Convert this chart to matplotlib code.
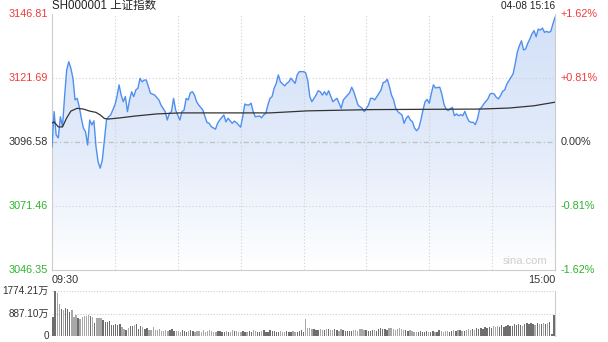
import matplotlib
matplotlib.use("Agg")
import matplotlib.pyplot as plt
import numpy as np
from matplotlib.colors import LinearSegmentedColormap
from matplotlib.patches import Polygon

plt.rcParams["font.family"] = ["Liberation Sans", "Noto Sans CJK SC", "DejaVu Sans"]

# ---------------------------------------------------------------------------
# Data
# ---------------------------------------------------------------------------
TITLE = "SH000001 上证指数"
STAMP = "04-08 15:16"
PREV_CLOSE = 3096.58
Y_TICKS = [3046.35, 3071.46, 3096.58, 3121.69, 3146.81]
PCT_LABELS = ["-1.62%", "-0.81%", "0.00%", "+0.81%", "+1.62%"]
VOL_TICKS = [0, 887.10, 1774.21]
VOL_LABELS = ["0", "887.10万", "1774.21万"]

# minutes since 09:30 (trading minutes, 240 = 15:00) and index price
price_min = [
    0, 1, 2, 3, 4, 5, 6, 7, 8, 9, 10, 11, 12, 13, 14, 15, 16, 17, 18, 19,
    20, 21, 22, 23, 24, 25, 26, 27, 28, 30, 31, 32, 33, 34, 35, 36, 37, 38, 39, 40,
    41, 42, 43, 44, 45, 46, 47, 49, 51, 52, 54, 55, 56, 57, 58, 59, 61, 62, 63, 64,
    65, 66, 67, 68, 69, 70, 72, 73, 74, 75, 76, 78, 79, 80, 82, 83, 84, 85, 86, 87,
    88, 90, 91, 92, 93, 94, 95, 96, 97, 99, 100, 101, 102, 103, 104, 105, 106, 107, 108, 109,
    111, 112, 113, 114, 116, 117, 118, 120, 121, 122, 123, 124, 126, 127, 128, 129, 130, 131, 132, 134,
    135, 136, 137, 138, 139, 141, 142, 143, 144, 145, 146, 147, 148, 149, 151, 152, 153, 154, 155, 157,
    158, 159, 160, 161, 162, 163, 164, 165, 167, 168, 169, 170, 171, 172, 173, 174, 175, 176, 177, 178,
    179, 180, 181, 182, 183, 185, 186, 187, 188, 189, 191, 192, 193, 194, 195, 196, 197, 198, 199, 200,
    201, 202, 203, 204, 205, 206, 208, 209, 210, 211, 212, 213, 214, 215, 216, 217, 219, 220, 221, 222,
    223, 224, 225, 226, 227, 228, 229, 230, 231, 232, 233, 234, 235, 236, 237, 238, 239, 240,
]
price = [
    3094.7, 3108.5, 3099.3, 3098.2, 3106.5, 3102.6, 3114.4, 3124.8, 3128.1, 3125.5,
    3121.6, 3113.1, 3113.7, 3110.4, 3105.9, 3102.0, 3100.6, 3095.4, 3105.2, 3103.3,
    3104.9, 3094.7, 3088.8, 3086.3, 3089.5, 3097.4, 3105.2, 3106.5, 3107.2, 3111.1,
    3114.4, 3119.0, 3115.0, 3112.4, 3114.4, 3108.5, 3113.1, 3116.3, 3114.4, 3117.0,
    3117.7, 3121.6, 3120.2, 3120.9, 3120.9, 3118.3, 3115.7, 3115.0, 3113.1, 3111.1,
    3108.5, 3105.2, 3107.8, 3108.5, 3113.7, 3109.1, 3105.2, 3108.5, 3109.1, 3113.7,
    3113.1, 3115.9, 3116.3, 3115.0, 3112.4, 3111.1, 3109.1, 3106.5, 3104.2, 3103.9,
    3102.6, 3101.6, 3103.9, 3105.2, 3107.2, 3104.5, 3105.9, 3104.9, 3103.9, 3104.8,
    3104.2, 3102.4, 3106.5, 3111.5, 3111.1, 3111.1, 3111.8, 3108.5, 3106.5, 3106.8,
    3106.1, 3107.2, 3107.8, 3111.1, 3113.7, 3114.4, 3117.7, 3119.6, 3122.9, 3120.2,
    3118.6, 3119.6, 3120.2, 3121.6, 3119.6, 3122.9, 3124.2, 3124.2, 3123.8, 3120.9,
    3114.4, 3112.4, 3115.0, 3116.7, 3116.3, 3115.0, 3116.3, 3115.0, 3116.7, 3112.4,
    3113.1, 3113.7, 3111.8, 3109.8, 3113.1, 3115.0, 3115.9, 3118.1, 3116.3, 3113.7,
    3111.1, 3110.4, 3109.8, 3108.5, 3111.1, 3113.7, 3113.7, 3113.1, 3114.4, 3117.0,
    3119.9, 3120.2, 3121.2, 3118.3, 3115.0, 3113.1, 3109.8, 3108.5, 3107.2, 3103.9,
    3105.9, 3106.8, 3105.2, 3104.5, 3102.0, 3101.0, 3102.0, 3105.2, 3109.1, 3112.4,
    3113.3, 3111.8, 3115.7, 3119.0, 3117.8, 3118.1, 3115.4, 3111.5, 3109.5, 3108.9,
    3110.2, 3106.9, 3107.6, 3106.9, 3107.3, 3106.9, 3108.6, 3106.3, 3104.7, 3104.3,
    3104.3, 3103.4, 3105.6, 3109.5, 3110.2, 3111.5, 3113.5, 3115.4, 3115.7, 3115.4,
    3114.1, 3113.5, 3114.8, 3116.5, 3117.0, 3119.3, 3122.0, 3123.3, 3127.2, 3131.8,
    3134.4, 3136.3, 3132.7, 3133.1, 3135.3, 3137.0, 3139.0, 3140.3, 3137.9, 3140.9,
    3140.5, 3141.3, 3139.6, 3140.0, 3139.6, 3140.0, 3142.9, 3145.5,
]

# average price line
avg_min = [0, 1, 3, 5, 7, 9, 12, 15, 18, 21, 23, 25, 27, 32, 40, 50, 61, 104, 122, 153, 204, 218, 230, 240]
avg_price = [3104.0, 3104.5, 3102.5, 3102.5, 3106.0, 3108.7, 3109.8, 3109.5, 3108.7, 3108.2,
             3107.2, 3105.8, 3105.6, 3106.0, 3106.8, 3107.6, 3108.0, 3108.0, 3108.8, 3109.3,
             3109.5, 3109.9, 3110.8, 3112.2]

# per-minute volume (万手), 241 bars
volume = [
    750, 1774, 1690, 1280, 1080, 1040, 1100, 1080, 950, 1010,
    750, 820, 710, 660, 750, 790, 790, 840, 790, 750,
    510, 720, 690, 710, 620, 550, 550, 580, 420, 420,
    490, 420, 490, 355, 275, 220, 300, 380, 380, 420,
    490, 290, 380, 350, 290, 310, 250, 220, 350, 240,
    230, 260, 200, 210, 250, 190, 220, 260, 180, 200,
    210, 170, 230, 190, 160, 200, 240, 180, 150, 210,
    190, 170, 220, 160, 190, 230, 200, 170, 150, 180,
    210, 160, 140, 190, 170, 150, 220, 180, 200, 160,
    150, 180, 140, 170, 200, 160, 220, 180, 150, 170,
    190, 230, 170, 160, 250, 200, 180, 160, 150, 190,
    170, 150, 190, 140, 160, 180, 150, 170, 200, 220,
    150, 660, 320, 300, 260, 280, 240, 220, 270, 250,
    230, 260, 290, 250, 220, 280, 230, 200, 260, 240,
    210, 190, 180, 210, 240, 230, 200, 260, 280, 220,
    240, 200, 180, 230, 250, 210, 270, 300, 260, 280,
    230, 300, 320, 270, 250, 290, 310, 260, 230, 250,
    200, 220, 190, 170, 160, 150, 180, 140, 160, 190,
    170, 150, 200, 170, 160, 220, 180, 150, 190, 210,
    170, 200, 230, 180, 220, 250, 210, 190, 240, 260,
    230, 280, 250, 300, 270, 320, 290, 340, 310, 360,
    330, 380, 350, 400, 370, 420, 360, 390, 440, 410,
    380, 460, 420, 480, 450, 410, 470, 500, 460, 520,
    480, 450, 510, 490, 470, 530, 460, 500, 540, 60,
    840,
]

RED = "#f23a3a"
GREEN = "#2db32d"
GRAY_TXT = "#333333"
LINE = "#4f8ff0"

# ---------------------------------------------------------------------------
# Figure
# ---------------------------------------------------------------------------
W, H = 608, 342
fig = plt.figure(figsize=(W / 100, H / 100), dpi=100)
fig.patch.set_facecolor("white")

x0, x1 = 52 / W, 555 / W
ax = fig.add_axes([x0, 1 - 270 / H, x1 - x0, (270 - 14) / H])
axv = fig.add_axes([x0, 1 - 336 / H, x1 - x0, (336 - 291) / H])

ylo, yhi = Y_TICKS[0], Y_TICKS[-1]
ax.set_xlim(0, 240)
ax.set_ylim(ylo, yhi)

# gradient fill under the price line
cmap = LinearSegmentedColormap.from_list("fill", ["#ffffff", "#e2ebfa", "#d2e0f8"])
grad = np.linspace(1, 0, 256).reshape(-1, 1)
im = ax.imshow(grad, cmap=cmap, aspect="auto", extent=[0, 240, ylo, yhi],
               origin="upper", zorder=1, interpolation="bilinear")
verts = [(price_min[0], ylo)] + list(zip(price_min, price)) + [(price_min[-1], ylo)]
clip = Polygon(verts, closed=True, facecolor="none", edgecolor="none")
ax.add_patch(clip)
im.set_clip_path(clip)

# grid
for t in range(30, 240, 30):
    ax.axvline(t, color="#d0d0d0", lw=0.8, ls=(0, (1, 2)), zorder=2)
for v in (Y_TICKS[1], Y_TICKS[3]):
    ax.axhline(v, color="#d0d0d0", lw=0.8, ls=(0, (1, 2)), zorder=2)
ax.axhline(PREV_CLOSE, color="#c0c0c0", lw=0.9, ls=(0, (4, 2, 1, 2)), zorder=2)

ax.plot(price_min, price, color=LINE, lw=1.0, zorder=4)
ax.plot(avg_min, avg_price, color="#333333", lw=0.9, zorder=5)

for s in ("left", "bottom", "right"):
    ax.spines[s].set_color("#cccccc")
    ax.spines[s].set_linewidth(0.8)
ax.spines["top"].set_visible(False)
ax.set_xticks([])
ax.set_yticks([])

# price labels left / percent labels right
label_colors = [GREEN, GREEN, GRAY_TXT, RED, RED]
for v, pct, c in zip(Y_TICKS, PCT_LABELS, label_colors):
    ax.text(-2.0, v, f"{v:.2f}", color=c, fontsize=7.8, ha="right", va="center")
    ax.text(242.5, v, pct, color=c, fontsize=7.8, ha="left", va="center")

ax.text(0, -0.018, "09:30", transform=ax.transAxes, ha="left", va="top",
        fontsize=7.8, color=GRAY_TXT)
ax.text(1, -0.018, "15:00", transform=ax.transAxes, ha="right", va="top",
        fontsize=7.8, color=GRAY_TXT)
ax.text(0.985, 0.015, "sina.com", transform=ax.transAxes, ha="right", va="bottom",
        fontsize=8, color="#cfcfcf")

fig.text(x0 + 0.5 / W, 1 - 6 / H, TITLE, ha="left", va="center", fontsize=8.3,
         color="#222222")
fig.text(x1, 1 - 6 / H, STAMP, ha="right", va="center", fontsize=7.3,
         color="#222222")

# volume panel
vm = np.arange(len(volume))
ref = np.interp(vm, price_min, price)
up = np.r_[True, np.diff(ref) >= 0]
bar_colors = ["#6e6e6e" if u else "#a8a8a8" for u in up]
axv.bar(vm, volume, width=0.65, color=bar_colors, edgecolor="none", zorder=3)
axv.set_xlim(-0.5, 240.5)
axv.set_ylim(0, VOL_TICKS[-1])
for v in VOL_TICKS[1:]:
    axv.axhline(v, color="#cfcfcf", lw=0.8, ls=(0, (1, 1.5)), zorder=1)
axv.set_xticks([])
axv.set_yticks([])
for s in ("left", "top", "bottom"):
    axv.spines[s].set_visible(False)
axv.spines["right"].set_color("#cccccc")
axv.spines["right"].set_linewidth(0.8)
for v, lab in zip(VOL_TICKS, VOL_LABELS):
    axv.text(-2.0, v, lab, ha="right", va="center", fontsize=7.2, color=GRAY_TXT)

fig.savefig("out.png", dpi=100)
